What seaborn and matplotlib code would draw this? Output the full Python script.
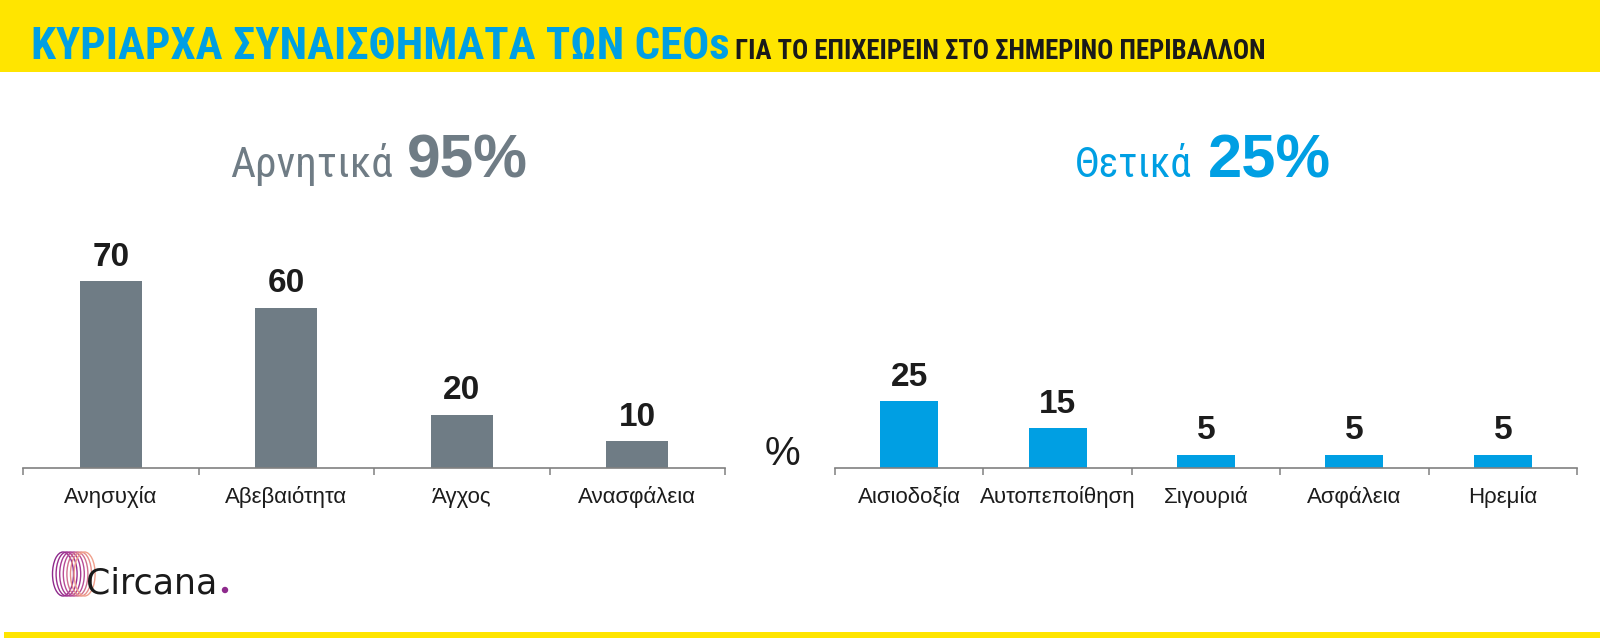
import matplotlib
matplotlib.use('Agg')
import matplotlib.pyplot as plt
import seaborn as sns
import numpy as np
from matplotlib.patches import Rectangle, Ellipse, Circle
from matplotlib import font_manager as fm

# ---------------- data ----------------
neg_labels = ["Ανησυχία", "Αβεβαιότητα", "Άγχος", "Ανασφάλεια"]
neg_values = [70, 60, 20, 10]
pos_labels = ["Αισιοδοξία", "Αυτοπεποίθηση", "Σιγουριά", "Ασφάλεια", "Ηρεμία"]
pos_values = [25, 15, 5, 5, 5]
neg_word = "Αρνητικά"
neg_total = "95%"
pos_word = "Θετικά"
pos_total = "25%"
title_main = "ΚΥΡΙΑΡΧΑ ΣΥΝΑΙΣΘΗΜΑΤΑ ΤΩΝ CEOs"
title_sub = "ΓΙΑ ΤΟ ΕΠΙΧΕΙΡΕΙΝ ΣΤΟ ΣΗΜΕΡΙΝΟ ΠΕΡΙΒΑΛΛΟΝ"
brand = "Circana"

# ---------------- style ----------------
YELLOW = '#FFE500'
BLUE = '#009FE3'
GREY = '#6F7C85'
AXIS = '#808080'
DARK = '#1c1c1c'


def have(name):
    try:
        fm.findfont(fm.FontProperties(family=name), fallback_to_default=False)
        return True
    except Exception:
        return False


BASE = 'Liberation Sans' if have('Liberation Sans') else 'DejaVu Sans'
NARROW = BASE
for cand in ['Liberation Sans Narrow', 'Roboto Condensed', 'DejaVu Sans Condensed',
             'Open Sans Condensed', 'Noto Sans Condensed']:
    if have(cand):
        NARROW = cand
        break

sns.set_theme(style='white')
plt.rcParams['font.family'] = [BASE, 'DejaVu Sans']

W, H = 1600, 642
fig = plt.figure(figsize=(16, 6.42), dpi=100)
fig.patch.set_facecolor('white')

bg = fig.add_axes([0, 0, 1, 1], zorder=-1)
bg.set_xlim(0, W)
bg.set_ylim(H, 0)
bg.axis('off')
bg.add_patch(Rectangle((0, 0), W, 72, color=YELLOW, lw=0))
bg.add_patch(Rectangle((4, 632), W - 4, 6, color=YELLOW, lw=0))

AX_BOTTOM = 468
AX_H = 267


def make_axes(x0, x1, labels, values, color, width):
    ax = fig.add_axes([x0 / W, (H - AX_BOTTOM) / H, (x1 - x0) / W, AX_H / H])
    sns.barplot(x=labels, y=values, ax=ax, color=color, saturation=1,
                width=width, linewidth=0)
    n = len(labels)
    ax.set_xlim(-0.5, n - 0.5)
    ax.set_ylim(0, 100)
    ax.set_facecolor('none')
    for s in ['top', 'right', 'left']:
        ax.spines[s].set_visible(False)
    ax.spines['bottom'].set_color(AXIS)
    ax.spines['bottom'].set_linewidth(1.2)
    ax.set_yticks([])
    ax.set_xticks(np.arange(-0.5, n, 1), minor=True)
    ax.tick_params(axis='x', which='minor', length=5, width=1.1, color=AXIS,
                   direction='out', bottom=True)
    ax.tick_params(axis='x', which='major', length=0, labelbottom=False)
    ax.set_xlabel('')
    ax.set_ylabel('')
    ybase = -(503 - AX_BOTTOM) / AX_H
    for i, lab in enumerate(labels):
        ax.text(i, ybase, lab, transform=ax.get_xaxis_transform(),
                ha='center', va='baseline', fontsize=16, color=DARK,
                clip_on=False)
    ax.bar_label(ax.containers[0], labels=[str(v) for v in values],
                 padding=6, fontsize=24, fontweight='bold', color=DARK)
    return ax


ax1 = make_axes(23, 725, neg_labels, neg_values, GREY, 0.353)
ax2 = make_axes(835, 1577, pos_labels, pos_values, BLUE, 0.39)

# ---------------- texts ----------------
t_main = bg.text(31, 59, title_main, ha='left', va='baseline', fontsize=31,
                 fontweight='bold', family=NARROW, color=BLUE)
t_sub = bg.text(735, 59, title_sub, ha='left', va='baseline', fontsize=25,
                fontweight='bold', family=NARROW, color='#1a1a1a')

t_nw = bg.text(393, 177, neg_word, ha='right', va='baseline', fontsize=42,
               family=NARROW, color=GREY)
t_nt = bg.text(407, 177, neg_total, ha='left', va='baseline', fontsize=46,
               fontweight='bold', family=BASE, color=GREY)
t_pw = bg.text(1192, 177, pos_word, ha='right', va='baseline', fontsize=42,
               family=NARROW, color=BLUE)
t_pt = bg.text(1208, 177, pos_total, ha='left', va='baseline', fontsize=46,
               fontweight='bold', family=BASE, color=BLUE)

bg.text(782, 454, '%', ha='center', va='center', fontsize=29, family=BASE,
        color=DARK)

# logo rings
ring_cols = ['#8E2A8C', '#9B2F8F', '#A83A92', '#B84C96', '#D0708F', '#E58D8A', '#F0A08C']
for i, c in enumerate(ring_cols):
    bg.add_patch(Ellipse((63 + i * 3.6, 574), 21, 44, fill=False, ec=c, lw=1.0))
bg.text(86, 593, brand, ha='left', va='baseline', fontsize=25,
        family='DejaVu Sans', color='#1a1a1a')
bg.add_patch(Circle((225, 590), 3.2, color='#8E2A8C', lw=0))

# fit text widths
fig.canvas.draw()
r = fig.canvas.get_renderer()


def fit(t, target, grow=1.0):
    w = t.get_window_extent(r).width
    f = target / w
    t.set_fontsize(t.get_fontsize() * min(f, grow))


fit(t_main, 698, grow=1.08)
fit(t_sub, 530, grow=1.05)
fit(t_nw, 163)
fit(t_pw, 117)
fit(t_nt, 121)
fit(t_pt, 123)

fig.savefig('out.png', dpi=100, facecolor='white')
